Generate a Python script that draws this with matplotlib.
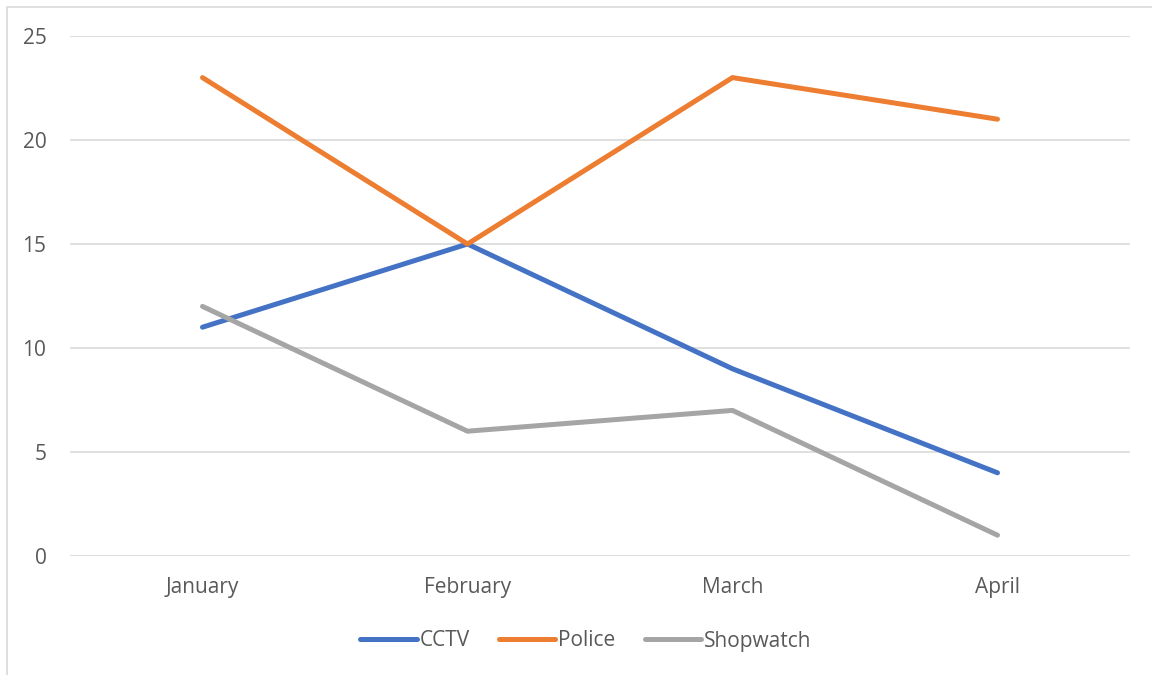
import matplotlib.pyplot as plt
from matplotlib.patches import Rectangle

months = ["January", "February", "March", "April"]
cctv = [11, 15, 9, 4]
police = [23, 15, 23, 21]
shopwatch = [12, 6, 7, 1]

series = [("CCTV", cctv, "#4472C4"),
          ("Police", police, "#ED7D31"),
          ("Shopwatch", shopwatch, "#A5A5A5")]

plt.rcParams['font.family'] = ['Open Sans', 'DejaVu Sans']

fig = plt.figure(figsize=(11.52, 6.75), dpi=100)
ax = fig.add_axes([70 / 1152, 1 - 556 / 675, 1060 / 1152, 520 / 675])

x = range(len(months))
for name, vals, col in series:
    ax.plot(x, vals, color=col, linewidth=3.6, label=name,
            solid_capstyle='round', solid_joinstyle='round', zorder=3)

ax.set_xlim(-0.5, len(months) - 0.5)
ax.set_ylim(0, 25)
ax.set_yticks(range(0, 26, 5))
ax.set_xticks(list(x))
ax.set_xticklabels(months)
ax.grid(axis='y', color='#D9D9D9', linewidth=1.2, zorder=0)
for s in ax.spines.values():
    s.set_visible(False)
ax.tick_params(length=0, labelsize=15, labelcolor='#595959')
ax.tick_params(axis='y', pad=17)
ax.tick_params(axis='x', pad=15)

fig.legend(loc='center', bbox_to_anchor=(586 / 1152, 1 - 641 / 675), ncol=3,
           frameon=False, fontsize=15, labelcolor='#595959',
           handlelength=2.7, handletextpad=0.15, columnspacing=1.4)

fig.patches.append(Rectangle((7 / 1152, -0.05), 1.1, 1 - 7 / 675 + 0.05,
                             transform=fig.transFigure, fill=False,
                             edgecolor='#D9D9D9', linewidth=1.2))

fig.savefig("out.png", dpi=100)
